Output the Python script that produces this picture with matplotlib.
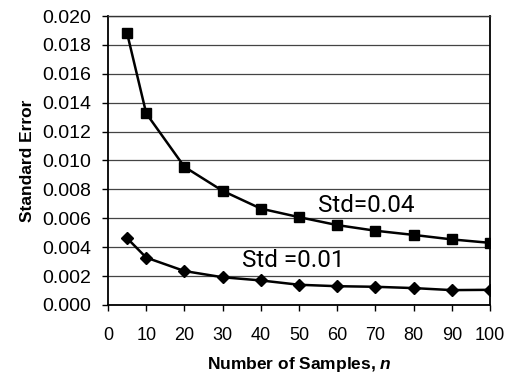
import matplotlib
matplotlib.use("Agg")
import matplotlib.pyplot as plt

plt.rcParams['font.family'] = ['Liberation Sans', 'DejaVu Sans']
plt.rcParams['mathtext.fontset'] = 'custom'
plt.rcParams['mathtext.bfit'] = 'Liberation Sans:bold:italic'
plt.rcParams['mathtext.it'] = 'Liberation Sans:italic'
plt.rcParams['mathtext.bf'] = 'Liberation Sans:bold'

n_values = [5, 10, 20, 30, 40, 50, 60, 70, 80, 90, 100]
se_std004 = [0.0188, 0.01326, 0.00956, 0.0079, 0.00667, 0.00608, 0.00553,
             0.00514, 0.00485, 0.00454, 0.0043]
se_std001 = [0.00462, 0.00328, 0.00235, 0.00192, 0.0017, 0.0014, 0.0013,
             0.00126, 0.00117, 0.00103, 0.00105]
x_ticks = list(range(0, 101, 10))
y_ticks = [0.000, 0.002, 0.004, 0.006, 0.008, 0.010, 0.012, 0.014, 0.016, 0.018, 0.020]
label_004 = "Std=0.04"
label_001 = "Std =0.01"

fig = plt.figure(figsize=(5.12, 3.81), dpi=100)
ax = fig.add_axes([0.211, 0.1995, 0.746, 0.7585])

ax.plot(n_values, se_std004, color='black', lw=1.8, marker='s', ms=7.5,
        markerfacecolor='black', zorder=3)
ax.plot(n_values, se_std001, color='black', lw=1.8, marker='D', ms=6.5,
        markerfacecolor='black', zorder=3)

ax.set_xlim(0, 100)
ax.set_ylim(0, 0.020)
ax.set_xticks(x_ticks)
ax.set_yticks(y_ticks)
ax.set_yticklabels([f"{v:.3f}" for v in y_ticks], fontsize=14)
ax.set_xticklabels([str(v) for v in x_ticks], fontsize=13)
ax.tick_params(axis='x', direction='out', length=4, width=1, pad=12)
ax.tick_params(axis='y', direction='out', length=4, width=1, pad=8)

ax.grid(axis='y', color='#444444', lw=0.9)
ax.set_axisbelow(True)
for side in ['left', 'right', 'bottom']:
    ax.spines[side].set_linewidth(1.3)
    ax.spines[side].set_color('black')
ax.spines['top'].set_linewidth(1.0)
ax.spines['top'].set_color('#333333')

ax.text(55, 0.0069, label_004, fontsize=17.5, family=['Roboto', 'DejaVu Sans'],
        fontweight='normal', color='black', ha='left', va='center')
ax.text(35, 0.0031, label_001, fontsize=17.5, family=['Roboto', 'DejaVu Sans'],
        fontweight='normal', color='black', ha='left', va='center')

ax.set_ylabel("Standard Error", fontsize=12.5, fontweight='bold', labelpad=5)
ax.set_xlabel(r"Number of Samples, $\mathbfit{n}$", fontsize=12.5, fontweight='bold',
              labelpad=8)

fig.savefig("out.png", dpi=100)
